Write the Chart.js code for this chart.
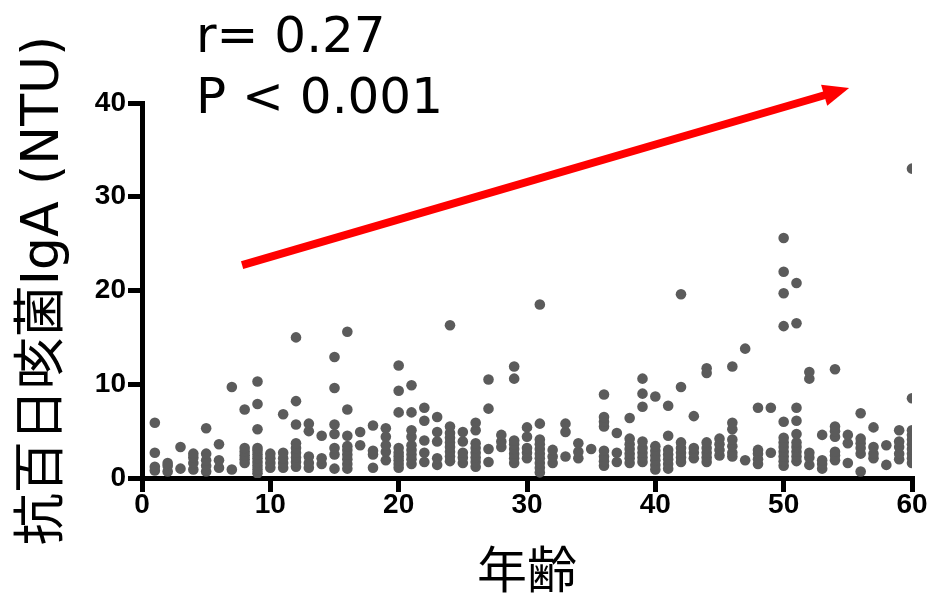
<!DOCTYPE html>
<html>
<head>
<meta charset="utf-8">
<script src="https://cdn.jsdelivr.net/npm/chart.js@4/dist/chart.umd.min.js"></script>
<style>
  html, body { margin: 0; padding: 0; background: #fff; }
  #wrap { width: 931px; height: 594px; }
</style>
</head>
<body>
<div id="wrap"><canvas id="c" width="931" height="594"></canvas></div>
<script>
// ---- data ----
const xTitle = "年齢";
const yTitle = "抗百日咳菌IgA (NTU)";
const statLines = ["r= 0.27", "P < 0.001"];
const xTicks = [0, 10, 20, 30, 40, 50, 60];
const yTicks = [0, 10, 20, 30, 40];
const trendX = [7.8, 55.1];
const trendY = [22.7, 41.6];
const ages = [];
for (let a = 1; a <= 60; a++) ages.push(a);
const igaByAge = [
  [0.8,1.2,2.7,5.9],
  [0.7,1.3,1.6],
  [1.0,3.3],
  [0.9,1.6,2.2,2.6],
  [0.7,1.3,1.9,2.6,5.3],
  [1.1,1.9,3.6],
  [0.9,9.7],
  [1.6,2.0,2.4,2.8,3.2,7.3],
  [0.5,0.9,1.3,1.7,2.1,2.5,2.9,3.2,5.2,7.9,10.3],
  [1.1,1.6,2.1,2.6],
  [1.1,1.6,2.1,2.7,6.8],
  [1.2,1.7,2.2,2.7,3.2,3.7,5.7,8.2,15.0],
  [1.1,1.6,2.3,5.0,5.8],
  [1.5,2.1,4.5],
  [1.0,2.5,3.2,4.7,5.7,9.6,12.9],
  [1.0,1.5,2.0,2.5,3.0,3.4,4.5,7.3,15.6],
  [3.5,4.9],
  [1.1,2.5,2.9,5.6],
  [1.9,2.8,3.5,4.4,5.3],
  [1.1,1.5,1.9,2.3,2.7,3.2,7.0,9.3,12.0],
  [1.5,2.0,2.5,3.0,3.5,4.4,5.1,7.0,9.9],
  [1.7,2.7,4.0,6.1,7.5],
  [1.4,2.1,3.9,4.9,6.5],
  [1.8,2.3,2.8,3.3,3.8,4.3,4.8,5.5,16.3],
  [1.6,2.2,2.7,3.9,4.9],
  [1.2,1.7,2.2,2.7,3.2,3.7,5.1,5.9],
  [1.7,3.1,7.4,10.5],
  [3.3,3.9,4.6],
  [1.6,2.1,2.6,3.1,3.6,4.0,10.6,11.9],
  [2.1,2.7,3.2,4.4,5.4],
  [0.6,1.1,1.6,2.1,2.6,3.1,3.6,4.1,5.8,18.5],
  [1.6,2.3,3.0],
  [2.3,4.9,5.8],
  [2.1,2.8,3.7],
  [3.1],
  [1.3,1.8,2.3,2.9,5.5,6.0,6.5,8.9],
  [1.7,2.7,4.8],
  [1.6,2.1,2.6,3.1,3.6,4.2,6.4],
  [1.7,2.2,2.7,3.2,3.9,7.6,9.0,10.6],
  [0.9,1.4,1.9,2.4,2.9,3.4,8.7],
  [1.0,1.5,2.0,2.5,3.0,4.5,7.7],
  [1.7,2.2,2.7,3.2,3.8,9.7,19.6],
  [2.1,2.7,3.2,6.6],
  [1.7,2.2,2.7,3.2,3.8,11.2,11.7],
  [2.4,3.0,3.6,4.2],
  [2.3,2.7,3.4,4.1,5.2,5.9,11.9],
  [1.9,13.8],
  [1.5,2.0,2.6,3.0,7.5],
  [2.7,7.5],
  [1.3,1.8,2.3,2.8,3.3,3.8,4.3,6.0,16.2,19.7,22.0,25.6],
  [1.8,2.3,2.8,3.3,3.8,4.7,6.1,7.5,16.5,20.8],
  [1.4,2.2,2.7,10.6,11.3],
  [1.0,1.5,1.9,4.6],
  [1.9,2.4,2.8,4.4,5.0,5.5,11.6],
  [1.6,3.7,4.6],
  [0.7,2.6,3.2,3.7,4.2,6.9],
  [2.1,2.6,3.3,5.4],
  [1.4,3.5],
  [2.0,2.6,3.3,3.9,5.1],
  [1.6,2.1,2.6,3.1,3.6,4.1,4.6,5.1,8.5,33.0]
];

const points = [];
ages.forEach((a, i) => igaByAge[i].forEach(v => points.push({x: a, y: v})));

const overlay = {
  id: 'overlay',
  afterDatasetsDraw(chart) {
    const ctx = chart.ctx;
    const xs = chart.scales.x, ys = chart.scales.y;
    const x0 = xs.getPixelForValue(trendX[0]), y0 = ys.getPixelForValue(trendY[0]);
    const x1 = xs.getPixelForValue(trendX[1]), y1 = ys.getPixelForValue(trendY[1]);
    const dx = x1 - x0, dy = y1 - y0, len = Math.hypot(dx, dy);
    const ux = dx / len, uy = dy / len;
    const headLen = 26, headHalf = 11;
    const bx = x1 - ux * headLen, by = y1 - uy * headLen;
    ctx.save();
    ctx.strokeStyle = '#ff0000';
    ctx.fillStyle = '#ff0000';
    ctx.lineWidth = 8;
    ctx.lineCap = 'butt';
    ctx.beginPath();
    ctx.moveTo(x0, y0);
    ctx.lineTo(bx + ux * 2, by + uy * 2);
    ctx.stroke();
    ctx.beginPath();
    ctx.moveTo(x1, y1);
    ctx.lineTo(bx - uy * headHalf, by + ux * headHalf);
    ctx.lineTo(bx + uy * headHalf, by - ux * headHalf);
    ctx.closePath();
    ctx.fill();
    // stats text
    ctx.fillStyle = '#000';
    ctx.font = '50px "DejaVu Sans", sans-serif';
    ctx.textAlign = 'left';
    ctx.textBaseline = 'alphabetic';
    ctx.fillText(statLines[0], 196, 52);
    ctx.fillText(statLines[1], 196, 113);
    ctx.restore();
  }
};

new Chart(document.getElementById('c'), {
  type: 'scatter',
  data: {
    datasets: [{
      data: points,
      backgroundColor: '#5b5b5b',
      borderWidth: 0,
      pointRadius: 5.3,
      pointHoverRadius: 5.3
    }]
  },
  options: {
    responsive: false,
    animation: false,
    events: [],
    layout: { padding: { top: 103, right: 19, left: 0, bottom: 0 } },
    plugins: { legend: { display: false }, tooltip: { enabled: false } },
    scales: {
      x: {
        type: 'linear',
        min: 0, max: 60,
        afterFit(s) { s.height = 116; },
        afterBuildTicks(s) { s.ticks = xTicks.map(v => ({value: v})); },
        ticks: {
          color: '#000',
          padding: -4,
          font: { family: '"Liberation Sans", Arial, sans-serif', size: 28, weight: 'bold' }
        },
        grid: { drawOnChartArea: false, drawTicks: true, tickLength: 14, color: '#000', lineWidth: 5 },
        border: { display: true, width: 5, color: '#000' },
        title: {
          display: true, text: xTitle, color: '#000',
          font: { family: '"Noto Sans CJK JP", sans-serif', size: 50, lineHeight: 1 },
          padding: { top: 0, bottom: 0 }
        }
      },
      y: {
        type: 'linear',
        min: 0, max: 40,
        afterFit(s) { s.width = 142; },
        afterBuildTicks(s) { s.ticks = yTicks.map(v => ({value: v})); },
        ticks: {
          color: '#000',
          padding: 2,
          font: { family: '"Liberation Sans", Arial, sans-serif', size: 28, weight: 'bold' }
        },
        grid: { drawOnChartArea: false, drawTicks: true, tickLength: 14, color: '#000', lineWidth: 5 },
        border: { display: true, width: 5, color: '#000' },
        title: {
          display: true, text: yTitle, color: '#000',
          font: { family: '"DejaVu Sans", "Noto Sans CJK JP", sans-serif', size: 52, lineHeight: 1 },
          padding: { top: 18, bottom: 0 }
        }
      }
    }
  },
  plugins: [overlay]
});
</script>
</body>
</html>
